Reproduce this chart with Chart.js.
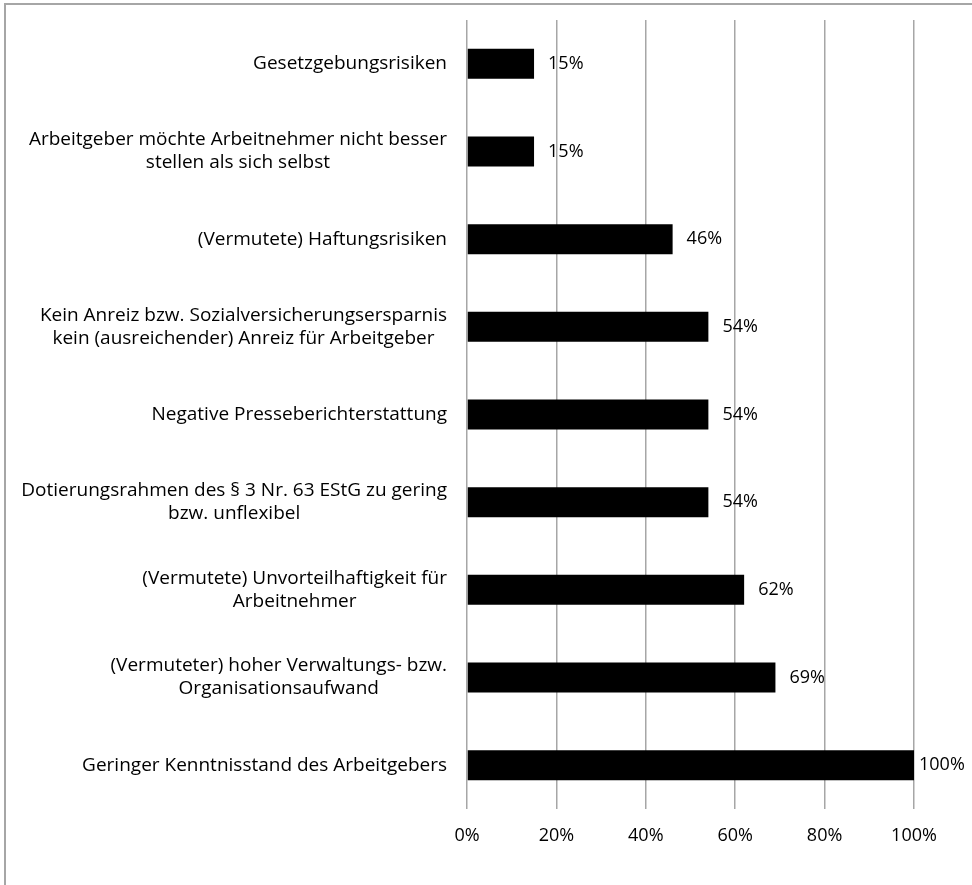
<!DOCTYPE html>
<html>
<head>
<meta charset="utf-8">
<script src="https://cdn.jsdelivr.net/npm/chart.js@4.4.1/dist/chart.umd.min.js"></script>
<style>
  html, body { margin: 0; padding: 0; background: #fff; overflow: hidden; }
  #frame { position: absolute; left: 4px; top: 3px; width: 1200px; height: 1200px;
           border-top: 2px solid #a6a6a6; border-left: 2px solid #a6a6a6; box-sizing: border-box; }
  #wrap { position: absolute; left: 0; top: 0; width: 972px; height: 885px; }
</style>
</head>
<body>
<div id="frame"></div>
<div id="wrap"><canvas id="c" width="972" height="885"></canvas></div>
<script>
const categories = [
  ["Gesetzgebungsrisiken"],
  ["Arbeitgeber möchte Arbeitnehmer nicht besser", "stellen als sich selbst"],
  ["(Vermutete) Haftungsrisiken"],
  ["Kein Anreiz bzw. Sozialversicherungsersparnis", "kein (ausreichender) Anreiz für Arbeitgeber"],
  ["Negative Presseberichterstattung"],
  ["Dotierungsrahmen des § 3 Nr. 63 EStG zu gering", "bzw. unflexibel"],
  ["(Vermutete) Unvorteilhaftigkeit für", "Arbeitnehmer"],
  ["(Vermuteter) hoher Verwaltungs- bzw.", "Organisationsaufwand"],
  ["Geringer Kenntnisstand des Arbeitgebers"]
];
const values = [15, 15, 46, 54, 54, 54, 62, 69, 100];
const xTicks = [0, 20, 40, 60, 80, 100];

const FONT = '"Open Sans", "Noto Sans", sans-serif';

const labelPlugin = {
  id: 'customLabels',
  afterDraw(chart) {
    const ctx = chart.ctx;
    const y = chart.scales.y;
    const x = chart.scales.x;
    const area = chart.chartArea;
    ctx.save();
    ctx.fillStyle = '#000';
    ctx.font = '19px ' + FONT;
    ctx.textBaseline = 'middle';
    const lh = 23;
    categories.forEach((lines, i) => {
      const cy = y.getPixelForTick(i);
      const w = Math.max(...lines.map(l => ctx.measureText(l).width));
      const cx = area.left - 20 - w / 2;
      ctx.textAlign = 'center';
      lines.forEach((l, j) => {
        ctx.fillText(l, cx, cy + (j - (lines.length - 1) / 2) * lh);
      });
    });
    // value labels
    ctx.font = '18px ' + FONT;
    ctx.textAlign = 'left';
    const meta = chart.getDatasetMeta(0);
    meta.data.forEach((bar, i) => {
      const xe = x.getPixelForValue(values[i]);
      const px = Math.min(xe + 14, area.right + 5);
      ctx.fillText(values[i] + '%', px, bar.y);
    });
    ctx.restore();
  }
};

new Chart(document.getElementById('c'), {
  type: 'bar',
  data: {
    labels: categories,
    datasets: [{
      data: values,
      backgroundColor: '#000',
      borderColor: '#000',
      borderWidth: 0,
      barPercentage: 0.342,
      categoryPercentage: 1.0
    }]
  },
  options: {
    indexAxis: 'y',
    responsive: false,
    animation: false,
    layout: { padding: { top: 20, right: 58, left: 0, bottom: 0 } },
    plugins: { legend: { display: false }, tooltip: { enabled: false } },
    scales: {
      x: {
        min: 0, max: 100,
        afterBuildTicks: (s) => { s.ticks = xTicks.map(v => ({ value: v })); },
        afterFit: (s) => { s.height = 76; },
        grid: { color: '#a6a6a6', lineWidth: 1.5, drawTicks: false },
        border: { display: false },
        ticks: {
          padding: 16,
          color: '#000',
          font: { family: FONT, size: 18 },
          callback: (v) => v + '%'
        }
      },
      y: {
        afterFit: (s) => { s.width = 467; },
        grid: { display: false, drawTicks: false },
        border: { display: false },
        ticks: { display: false }
      }
    }
  },
  plugins: [labelPlugin]
});
</script>
</body>
</html>
